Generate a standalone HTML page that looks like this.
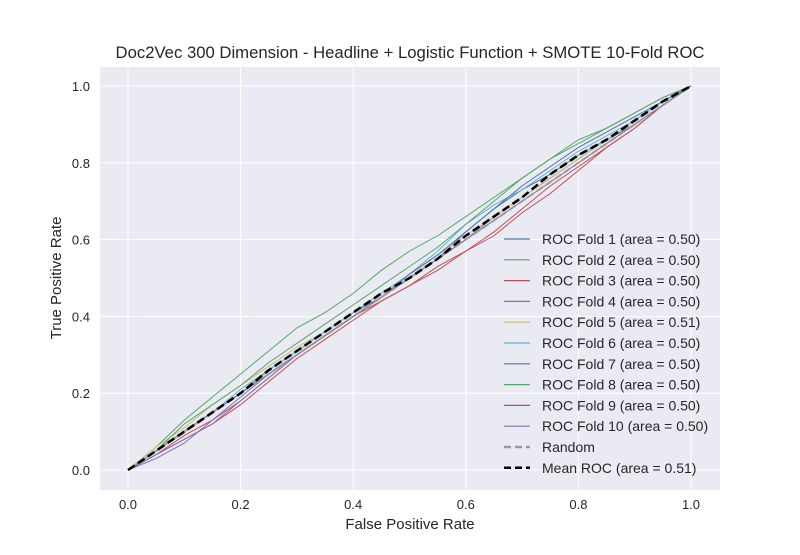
<!DOCTYPE html>
<html><head><meta charset="utf-8">
<style>
body{margin:0;background:#fff;font-family:"Liberation Sans","DejaVu Sans",sans-serif;}
svg text{font-family:"Liberation Sans","DejaVu Sans",sans-serif;}
</style></head><body>
<svg id="chart" width="800" height="550">
</svg>
<script>
const xTicks=[0,0.2,0.4,0.6,0.8,1.0];
const yTicks=[0,0.2,0.4,0.6,0.8,1.0];
const fprGrid=[0,0.05,0.1,0.15,0.2,0.25,0.3,0.35,0.4,0.45,0.5,0.55,0.6,0.65,0.7,0.75,0.8,0.85,0.9,0.95,1.0];
const fold1=[0,0.05,0.10,0.15,0.20,0.26,0.31,0.36,0.41,0.45,0.50,0.55,0.62,0.68,0.73,0.77,0.82,0.86,0.90,0.95,1];
const fold2=[0,0.06,0.13,0.19,0.25,0.31,0.37,0.41,0.46,0.52,0.57,0.61,0.66,0.71,0.76,0.81,0.86,0.89,0.93,0.97,1];
const fold3=[0,0.04,0.09,0.13,0.18,0.24,0.30,0.35,0.40,0.44,0.48,0.53,0.57,0.62,0.68,0.74,0.79,0.84,0.89,0.95,1];
const fold4=[0,0.03,0.07,0.13,0.19,0.25,0.30,0.35,0.40,0.45,0.50,0.55,0.60,0.66,0.71,0.76,0.81,0.86,0.90,0.95,1];
const fold5=[0,0.06,0.11,0.17,0.22,0.27,0.32,0.36,0.41,0.46,0.51,0.56,0.61,0.66,0.71,0.76,0.81,0.86,0.91,0.96,1];
const fold6=[0,0.05,0.10,0.15,0.21,0.26,0.31,0.36,0.41,0.46,0.51,0.57,0.64,0.69,0.73,0.78,0.83,0.87,0.91,0.96,1];
const fold7=[0,0.05,0.10,0.15,0.20,0.25,0.30,0.35,0.40,0.45,0.51,0.56,0.62,0.68,0.74,0.79,0.84,0.88,0.92,0.96,1];
const fold8=[0,0.05,0.12,0.17,0.22,0.28,0.33,0.38,0.43,0.48,0.53,0.58,0.64,0.70,0.76,0.81,0.85,0.89,0.93,0.97,1];
const fold9=[0,0.04,0.08,0.12,0.17,0.23,0.29,0.34,0.39,0.44,0.48,0.52,0.57,0.61,0.67,0.72,0.78,0.84,0.89,0.95,1];
const fold10=[0,0.04,0.08,0.12,0.18,0.24,0.30,0.35,0.40,0.45,0.50,0.55,0.60,0.65,0.70,0.75,0.80,0.85,0.90,0.95,1];
const meanRoc=[0,0.05,0.10,0.15,0.20,0.26,0.31,0.36,0.41,0.46,0.50,0.55,0.61,0.66,0.71,0.77,0.82,0.86,0.91,0.96,1];
const foldLabels=["ROC Fold 1 (area = 0.50)","ROC Fold 2 (area = 0.50)","ROC Fold 3 (area = 0.50)","ROC Fold 4 (area = 0.50)","ROC Fold 5 (area = 0.51)","ROC Fold 6 (area = 0.50)","ROC Fold 7 (area = 0.50)","ROC Fold 8 (area = 0.50)","ROC Fold 9 (area = 0.50)","ROC Fold 10 (area = 0.50)"];
const folds=[fold1,fold2,fold3,fold4,fold5,fold6,fold7,fold8,fold9,fold10];
const colors=["#4C72B0","#55A868","#C44E52","#8172B2","#CCB974","#64B5CD","#4C72B0","#55A868","#C44E52","#8172B2"];

const NS="http://www.w3.org/2000/svg";
const svg=document.getElementById('chart');
const L=100,R=720,T=67,B=490;
const sx=v=>128+v*(691-128);
const sy=v=>470-v*(470-86);
function mk(tag,attrs,parent){const e=document.createElementNS(NS,tag);for(const k in attrs)e.setAttribute(k,attrs[k]);(parent||svg).appendChild(e);return e;}

const bg=mk('rect',{x:L,y:T,width:R-L,height:B-T,fill:'#EAEAF2'});


xTicks.forEach(t=>{
  const g=mk('line',{x1:sx(t),x2:sx(t),y1:T,y2:B,stroke:'#fff','stroke-width':1});
  
  
  const tx=mk('text',{x:sx(t),y:509,'text-anchor':'middle','font-size':13,fill:'#262626'});
  tx.textContent=t.toFixed(1);
  
  
});
yTicks.forEach(t=>{
  const g=mk('line',{x1:L,x2:R,y1:sy(t),y2:sy(t),stroke:'#fff','stroke-width':1});
  
  
  const tx=mk('text',{x:90,y:sy(t)+5,'text-anchor':'end','font-size':13,fill:'#262626'});
  tx.textContent=t.toFixed(1);
  
  
});
function pts(arr){return arr.map((v,i)=>sx(fprGrid[i])+','+sy(v)).join(' ');}
folds.forEach((f,i)=>{
  const p=mk('polyline',{points:pts(f),fill:'none',stroke:colors[i],'stroke-width':1});
  
  
});
const rnd=mk('line',{x1:sx(0),y1:sy(0),x2:sx(1),y2:sy(1),stroke:'#999','stroke-width':2,'stroke-dasharray':'7,4'});


const mean=mk('polyline',{points:pts(meanRoc),fill:'none',stroke:'#000','stroke-width':2.5,'stroke-dasharray':'8,4'});



const title=mk('text',{x:410,y:58,'text-anchor':'middle','font-size':16.7,fill:'#262626'});
title.textContent='Doc2Vec 300 Dimension - Headline + Logistic Function + SMOTE 10-Fold ROC';


const xl=mk('text',{x:410,y:529,'text-anchor':'middle','font-size':15,fill:'#262626'});
xl.textContent='False Positive Rate';


const yl=mk('text',{x:61,y:278,'text-anchor':'middle','font-size':15,fill:'#262626',transform:'rotate(-90 61 278)'});
yl.textContent='True Positive Rate';



const legLabels=foldLabels.concat(['Random','Mean ROC (area = 0.51)']);
const legColors=colors.concat(['#999','#000']);
legLabels.forEach((lab,i)=>{
  const y=239+i*20.8;
  const w=i<10?1.2:2.5;
  const ln=mk('line',{x1:504,x2:530,y1:y,y2:y,stroke:legColors[i],'stroke-width':w});
  if(i>=10)ln.setAttribute('stroke-dasharray','7,4');
  
  
  const tx=mk('text',{x:542,y:y+5,'font-size':14,fill:'#262626'});
  tx.textContent=lab;
  
  
});
</script>
</body></html>
